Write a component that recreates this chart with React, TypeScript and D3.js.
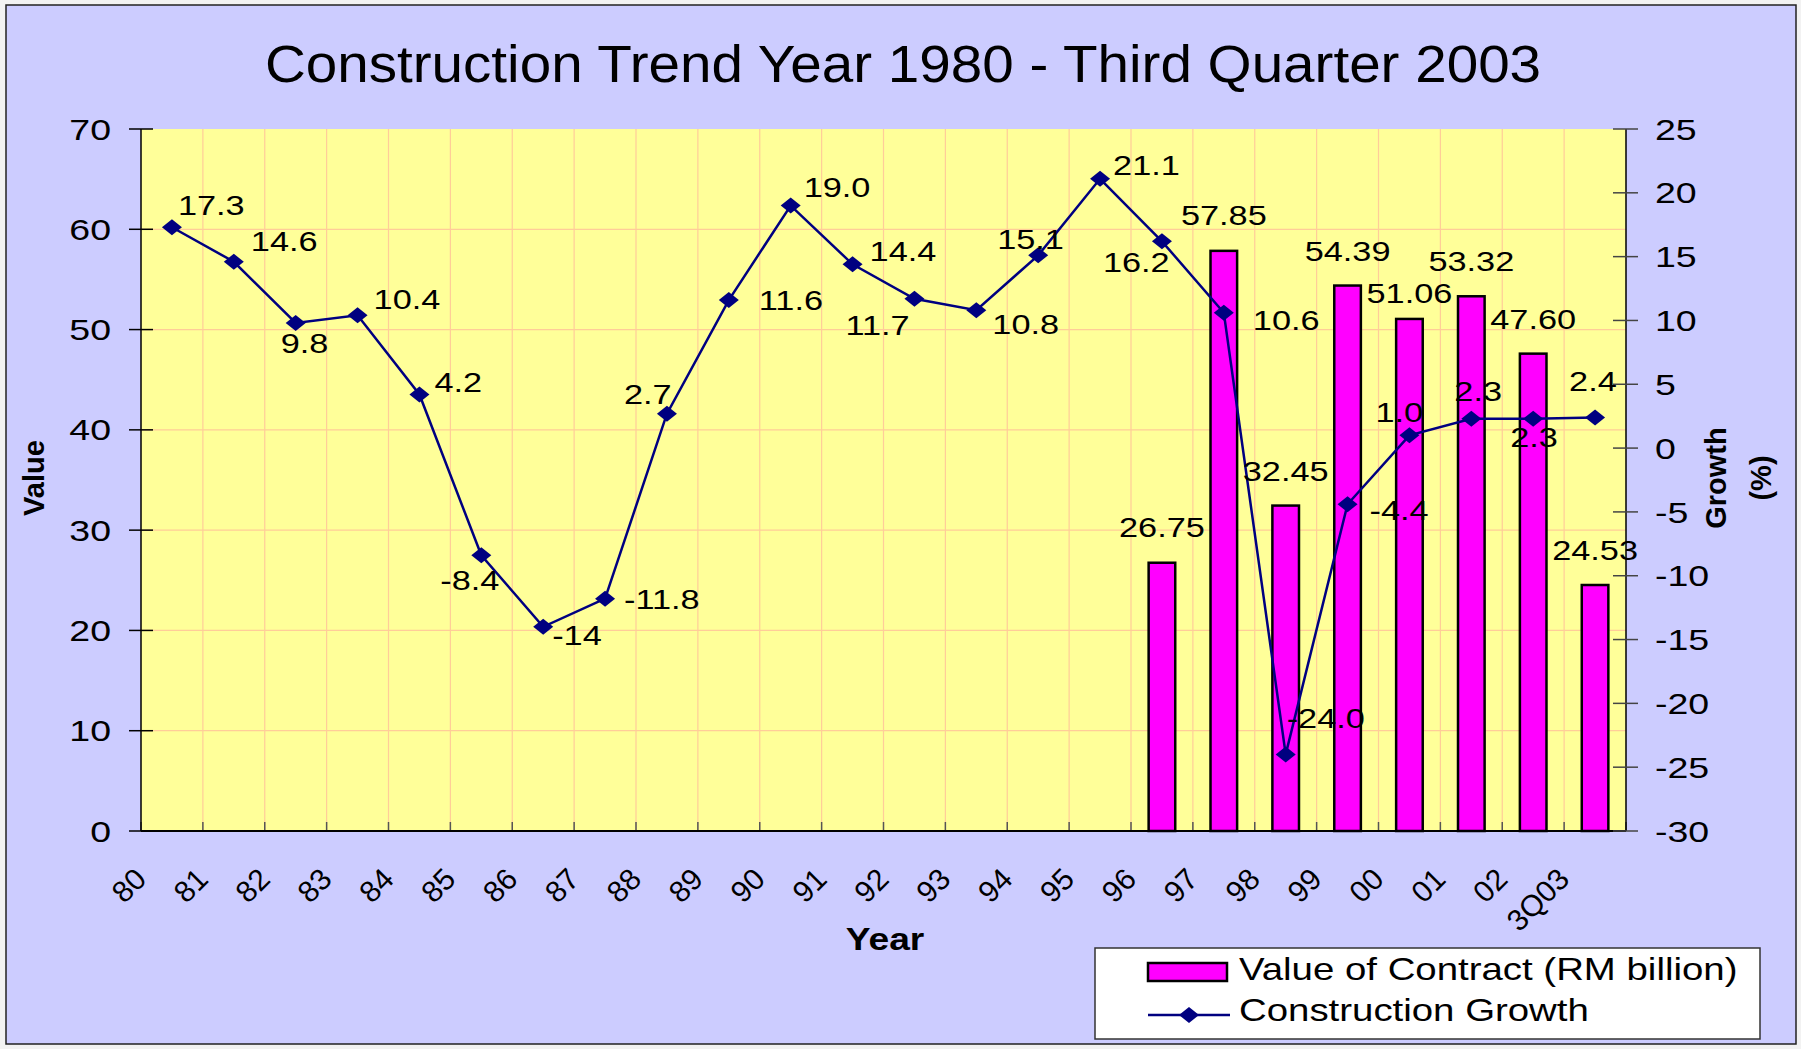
import * as d3 from "d3";

const categories = ["80", "81", "82", "83", "84", "85", "86", "87", "88", "89", "90", "91", "92", "93", "94", "95", "96", "97", "98", "99", "00", "01", "02", "3Q03"];
// Value of Contract (RM billion), only from 96 on
const contractValue: (number | null)[] = [null, null, null, null, null, null, null, null, null, null, null, null, null, null, null, null, 26.75, 57.85, 32.45, 54.39, 51.06, 53.32, 47.60, 24.53];
// Construction Growth (%)
const growth = [17.3, 14.6, 9.8, 10.4, 4.2, -8.4, -14, -11.8, 2.7, 11.6, 19.0, 14.4, 11.7, 10.8, 15.1, 21.1, 16.2, 10.6, -24.0, -4.4, 1.0, 2.3, 2.3, 2.4];
const growthLabels = ["17.3", "14.6", "9.8", "10.4", "4.2", "-8.4", "-14", "-11.8", "2.7", "11.6", "19.0", "14.4", "11.7", "10.8", "15.1", "21.1", "16.2", "10.6", "-24.0", "-4.4", "1.0", "2.3", "2.3", "2.4"];
const valueTicks = [0, 10, 20, 30, 40, 50, 60, 70];
const growthTicks = [-30, -25, -20, -15, -10, -5, 0, 5, 10, 15, 20, 25];

// label placement (px relative to the point): [left, baseline]
const growthLabelOffset: [number, number][] = [
  [6, -12], [17, -11], [-15, 30], [16, -6], [15, -2], [-41, 35], [9, 18], [19, 10],
  [-43, -10], [30, 10], [13, -9], [17, -3], [-69, 36], [16, 24], [-41, -6], [13, -4],
  [-59, 31], [29, 17], [1, -26], [22, 16], [-34, -13], [-17, -18], [-23, 28], [-26, -26],
];
const barLabelGap = [25, 25, 25, 25, 25, 25, 25, 25, 25, 25, 25, 25, 25, 25, 25, 25, 26, 26, 25, 25, 16, 25, 25, 25];

const width = 1801;
const height = 1049;
const plotLeft = 141;
const plotRight = 1626;
const plotTop = 129;
const plotBottom = 831;
const font = "'Liberation Sans', Arial, sans-serif";

const x = d3.scaleBand(categories, [plotLeft, plotRight]);
const yL = d3.scaleLinear([0, 70], [plotBottom, plotTop]);
const yR = d3.scaleLinear([-30, 25], [plotBottom, plotTop]);
const cx = (i: number) => (x(categories[i]) ?? 0) + x.bandwidth() / 2;
const barW = x.bandwidth() * 0.43;

const diamond = "M0,-8L10,0L0,8L-10,0Z";

function SText({ x, y, sx = 1, size, anchor = "start", weight = "normal", children }: {
  x: number, y: number, sx?: number, size: number, anchor?: string, weight?: string, children: any
}) {
  return (
    <text transform={`translate(${x},${y}) scale(${sx},1)`} fontSize={size} textAnchor={anchor}
      fontWeight={weight} fontFamily={font} fill="#000">{children}</text>
  );
}

export default function App() {
  const line = d3.line<number>((_, i) => cx(i), (d) => yR(d));
  const boundaries = d3.range(categories.length + 1).map((i) => plotLeft + i * x.step());

  return (
    <svg width={width} height={height} style={{ position: "absolute", left: 0, top: 0 }}>
      <rect x={0} y={0} width={width} height={height} fill="#f2f2f2" />
      <rect x={6} y={5} width={1790} height={1039} fill="#CCCCFF" stroke="#222" strokeWidth={1.5} />

      <SText x={903} y={82} sx={1.11} size={51} anchor="middle">Construction Trend Year 1980 - Third Quarter 2003</SText>

      {/* plot area */}
      <rect x={plotLeft} y={plotTop} width={plotRight - plotLeft} height={plotBottom - plotTop} fill="#FFFF99" />
      {valueTicks.slice(1, -1).map((t) => (
        <line key={"h" + t} x1={plotLeft} x2={plotRight} y1={yL(t)} y2={yL(t)} stroke="#FFCC99" strokeWidth={1.2} />
      ))}
      {boundaries.slice(1, -1).map((bx, i) => (
        <line key={"v" + i} x1={bx} x2={bx} y1={plotTop} y2={plotBottom} stroke="#FFCC99" strokeWidth={1.2} />
      ))}

      {/* bars */}
      {contractValue.map((v, i) => v == null ? null : (
        <rect key={"b" + i} x={cx(i) - barW / 2} y={yL(v)} width={barW} height={yL(0) - yL(v)}
          fill="#FF00FF" stroke="#000" strokeWidth={2.5} />
      ))}

      {/* line */}
      <path d={line(growth) ?? ""} fill="none" stroke="#000080" strokeWidth={2.5} />
      {growth.map((g, i) => (
        <path key={"m" + i} d={diamond} transform={`translate(${cx(i)},${yR(g)})`} fill="#000080" />
      ))}

      {/* axes */}
      {boundaries.map((bx, i) => (
        <line key={"bt" + i} x1={bx} x2={bx} y1={plotBottom} y2={plotBottom - 9} stroke="#555" strokeWidth={1.5} />
      ))}
      <line x1={plotLeft} x2={plotRight} y1={plotBottom} y2={plotBottom} stroke="#000" strokeWidth={2} />
      <line x1={plotLeft} x2={plotLeft} y1={plotTop} y2={plotBottom} stroke="#000" strokeWidth={1.5} />
      <line x1={plotRight} x2={plotRight} y1={plotTop} y2={plotBottom} stroke="#000" strokeWidth={1.5} />
      {valueTicks.map((t) => (
        <g key={"lt" + t}>
          <line x1={plotLeft - 12} x2={plotLeft + 12} y1={yL(t)} y2={yL(t)} stroke="#000" strokeWidth={1.5} />
          <SText x={111} y={yL(t) + 10.6} sx={1.25} size={30} anchor="end">{t}</SText>
        </g>
      ))}
      {growthTicks.map((t) => (
        <g key={"rt" + t}>
          <line x1={plotRight - 13} x2={plotRight + 12} y1={yR(t)} y2={yR(t)} stroke="#444" strokeWidth={1.5} />
          <SText x={1655} y={yR(t) + 10.6} sx={1.25} size={30}>{t}</SText>
        </g>
      ))}
      {categories.map((c, i) => (
        <text key={"xl" + c} transform={`translate(${cx(i) - 24},${881}) rotate(-45)`} textAnchor="end"
          fontSize={30} fontFamily={font}>{c}</text>
      ))}

      {/* data labels */}
      {contractValue.map((v, i) => v == null ? null : (
        <SText key={"bl" + i} x={cx(i)} y={yL(v) - barLabelGap[i]} sx={1.27} size={27} anchor="middle">{v.toFixed(2)}</SText>
      ))}
      {growth.map((g, i) => (
        <SText key={"gl" + i} x={cx(i) + growthLabelOffset[i][0]} y={yR(g) + growthLabelOffset[i][1]} sx={1.27} size={27}>{growthLabels[i]}</SText>
      ))}

      {/* axis titles */}
      <text transform="translate(44,478) rotate(-90)" textAnchor="middle" fontSize={29} fontWeight="bold" fontFamily={font}>Value</text>
      <text transform="translate(1726,478) rotate(-90)" textAnchor="middle" fontSize={29} fontWeight="bold" fontFamily={font}>Growth</text>
      <text transform="translate(1771,478) rotate(-90)" textAnchor="middle" fontSize={29} fontWeight="bold" fontFamily={font}>(%)</text>
      <SText x={885} y={950} sx={1.2} size={31} anchor="middle" weight="bold">Year</SText>

      {/* legend */}
      <rect x={1095} y={948} width={665} height={91} fill="#fff" stroke="#333" strokeWidth={1.5} />
      <rect x={1148} y={963} width={79} height={18} fill="#FF00FF" stroke="#000" strokeWidth={2.5} />
      <SText x={1239} y={980} sx={1.2} size={32}>Value of Contract (RM billion)</SText>
      <line x1={1148} x2={1230} y1={1015} y2={1015} stroke="#000080" strokeWidth={2.5} />
      <path d={diamond} transform="translate(1189,1015)" fill="#000080" />
      <SText x={1239} y={1021} sx={1.2} size={32}>Construction Growth</SText>
    </svg>
  );
}
